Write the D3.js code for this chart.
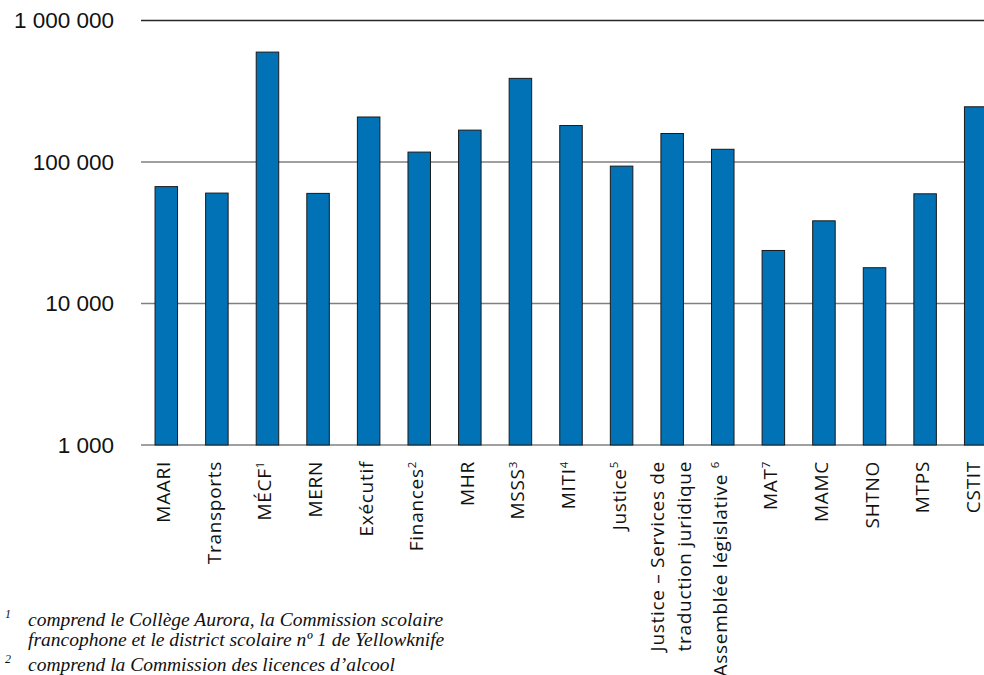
<!DOCTYPE html>
<html>
<head>
<meta charset="utf-8">
<script src="https://cdn.jsdelivr.net/npm/d3@7"></script>
<style>
  body { margin: 0; background: #fff; }
  svg { display: block; }
</style>
</head>
<body>
<svg id="chart" width="984" height="675"></svg>
<script>
// departments (x categories), their footnote marks and the values
var categories = ["MAARI", "Transports", "MÉCF", "MERN", "Exécutif", "Finances", "MHR", "MSSS",
    "MITI", "Justice", "Justice – Services de|traduction juridique", "Assemblée législative ",
    "MAT", "MAMC", "SHTNO", "MTPS", "CSTIT"];
var marks = ["", "", "1", "", "", "2", "", "3", "4", "5", "", "6", "7", "", "", "", ""];
var values = [67000, 60300, 598000, 60000, 208000, 117500, 168000, 390000, 181000, 93500,
    159000, 123000, 23700, 38400, 17900, 59600, 245600];
var yTicks = [1000, 10000, 100000, 1000000];
var footnotes = [
    ["1", "comprend le Collège Aurora, la Commission scolaire"],
    ["", "francophone et le district scolaire nº 1 de Yellowknife"],
    ["2", "comprend la Commission des licences d’alcool"]
];

var svg = d3.select("#chart");

var x = d3.scaleBand()
    .domain(categories)
    .range([141, 1001])
    .paddingInner(0.555)
    .paddingOuter(0.2775);

var y = d3.scaleLog()
    .domain([1000, 1000000])
    .range([445, 20.5]);

var fmt = function (d) { return d3.format(",")(d).replace(/,/g, " "); };

// gridlines
svg.append("g")
    .selectAll("line")
    .data(yTicks)
    .enter().append("line")
    .attr("x1", 141)
    .attr("x2", 1001)
    .attr("y1", function (d) { return y(d); })
    .attr("y2", function (d) { return y(d); })
    .attr("stroke", function (d) { return d === 1000000 ? "#262626" : "#808080"; })
    .attr("stroke-width", 1.6);

// y labels
svg.append("g")
    .attr("font-family", "'Liberation Sans', Arial, sans-serif")
    .attr("font-size", 22.5)
    .attr("text-anchor", "end")
    .selectAll("text")
    .data(yTicks)
    .enter().append("text")
    .attr("x", 114)
    .attr("y", function (d) { return y(d); })
    .attr("dy", "0.35em")
    .attr("fill", "#111")
    .text(fmt);

// bars
svg.append("g")
    .selectAll("rect")
    .data(values)
    .enter().append("rect")
    .attr("x", function (d, i) { return x(categories[i]); })
    .attr("y", function (d) { return y(d); })
    .attr("width", x.bandwidth())
    .attr("height", function (d) { return y(1000) - y(d); })
    .attr("fill", "#0072b5")
    .attr("stroke", "#1a1a1a")
    .attr("stroke-width", 1);

// category labels, rotated
var lab = svg.append("g")
    .attr("font-family", "'Open Sans', sans-serif")
    .attr("font-size", 19)
    .attr("letter-spacing", "0.7px")
    .attr("fill", "#111")
    .selectAll("g")
    .data(categories)
    .enter().append("g")
    .attr("transform", function (d) {
        return "translate(" + (x(d) + x.bandwidth() / 2) + ",461) rotate(-90)";
    });

lab.each(function (d, i) {
    var lines = d.split("|");
    var t = d3.select(this).append("text").attr("text-anchor", "end");
    lines.forEach(function (l, k) {
        var base = lines.length > 1 ? -8 + k * 27 : 4;
        t.append("tspan").attr("x", 0).attr("y", base).text(l);
        if (k === lines.length - 1 && marks[i]) {
            t.append("tspan")
                .attr("font-size", 11.5)
                .attr("dy", -7.5)
                .text(marks[i]);
        }
    });
});

// footnotes
var fn = svg.append("g")
    .attr("font-family", "'Liberation Serif', serif")
    .attr("font-style", "italic")
    .attr("fill", "#111");

var fy = [626, 646, 671];
footnotes.forEach(function (f, i) {
    fn.append("text")
        .attr("x", 5)
        .attr("y", fy[i] - 8)
        .attr("font-size", 12)
        .text(f[0]);
    fn.append("text")
        .attr("x", 28)
        .attr("y", fy[i])
        .attr("font-size", 19.5)
        .text(f[1]);
});
</script>
</body>
</html>
